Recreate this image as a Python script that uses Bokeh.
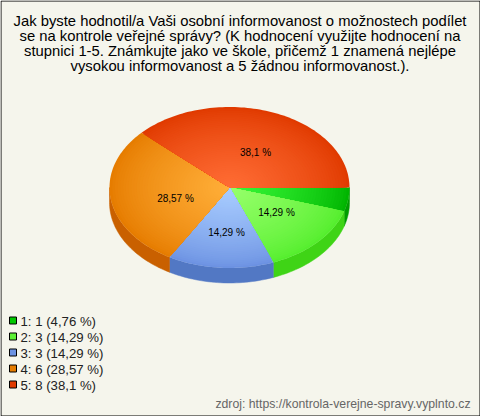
import math
from bokeh.plotting import figure
from bokeh.models import Range1d
from bokeh.core.properties import value
from bokeh.embed import file_html
from bokeh.resources import INLINE

title_lines = [
    "Jak byste hodnotil/a Vaši osobní informovanost o možnostech podílet",
    "se na kontrole veřejné správy? (K hodnocení využijte hodnocení na",
    "stupnici 1-5. Známkujte jako ve škole, přičemž 1 znamená nejlépe",
    "vysokou informovanost a 5 žádnou informovanost.).",
]
categories = ["1", "2", "3", "4", "5"]
counts = [1, 3, 3, 6, 8]
percent_labels = ["4,76 %", "14,29 %", "14,29 %", "28,57 %", "38,1 %"]
source_text = "zdroj: https://kontrola-verejne-spravy.vyplnto.cz"

rim_colors = ["#00B400", "#55EE2E", "#6C92E2", "#E67C00", "#E03A00"]
core_colors = ["#38F838", "#96FF6A", "#A8CCFF", "#FFAE38", "#FF6C34"]
side_colors = ["#009C00", "#3FD416", "#5278C4", "#C96000", "#B83000"]
legend_colors = ["#00C800", "#5CF034", "#6C92E2", "#E67C00", "#E03A00"]

BG = "#F5F5EC"
CX, CY, RX, RY, DEPTH = 229, 187, 120, 80.5, 15
RINGS = 44

p = figure(width=480, height=416, output_backend="svg", toolbar_location=None,
           x_range=Range1d(0, 480), y_range=Range1d(416, 0),
           min_border=0, background_fill_color=BG, border_fill_color=BG,
           outline_line_color=None)
p.axis.visible = False
p.grid.visible = False


def hex_rgb(c):
    return [int(c[i:i + 2], 16) for i in (1, 3, 5)]


def mix(a, b, t):
    ra, rb = hex_rgb(a), hex_rgb(b)
    return "#%02X%02X%02X" % tuple(round(x + (y - x) * t) for x, y in zip(ra, rb))


def arc(a0, a1):
    n = max(2, int((a1 - a0) / 1.5))
    return [a0 + (a1 - a0) * i / n for i in range(n + 1)]


total = sum(counts)
bounds = [0.0]
for c in counts:
    bounds.append(bounds[-1] + 360.0 * c / total)

# side wall: only the front half of the ellipse is visible
for i in range(len(counts)):
    a0, a1 = bounds[i], min(bounds[i + 1], 180.0)
    if a1 <= a0:
        continue
    pts = arc(a0, a1)
    xs = [CX + RX * math.cos(math.radians(a)) for a in pts]
    ys = [CY + RY * math.sin(math.radians(a)) for a in pts]
    p.patch(xs + xs[::-1], ys + [y + DEPTH for y in ys[::-1]],
            fill_color=side_colors[i], line_color=side_colors[i], line_width=0.5)

# top surface: concentric wedges step from the rim colour to the core colour
for i in range(len(counts)):
    pts = arc(bounds[i], bounds[i + 1])
    xs_all, ys_all, cols = [], [], []
    for k in range(RINGS):
        s = 1 - k / RINGS
        xs_all.append([CX] + [CX + s * RX * math.cos(math.radians(a)) for a in pts])
        ys_all.append([CY] + [CY + s * RY * math.sin(math.radians(a)) for a in pts])
        cols.append(mix(rim_colors[i], core_colors[i], (k / (RINGS - 1)) ** 0.75))
    p.patches(xs_all, ys_all, fill_color=cols, line_color=None)

# labels on the slices
label_x = [None, 276, 226, 175, 255]
label_y = [None, 212, 232, 198, 152]
for i in range(1, len(counts)):
    p.text([label_x[i]], [label_y[i]], text=[percent_labels[i]], text_font=value("Liberation Sans"),
           text_font_size="10px", text_align="center", text_baseline="middle", text_color="#000000")

# title
for i, line in enumerate(title_lines):
    p.text([239.5], [20 + i * 15.3], text=[line], text_font=value("Liberation Sans"),
           text_font_size="14.8px", text_align="center", text_baseline="middle", text_color="#000000")

# legend
for i, cat in enumerate(categories):
    y = 320 + i * 16
    p.rect([12.5], [y], width=7, height=7, fill_color=legend_colors[i], line_color="#000000", line_width=1)
    p.text([20], [y + 0.5], text=[f"{cat}: {counts[i]} ({percent_labels[i]})"],
           text_font=value("Liberation Sans"), text_font_size="13.2px",
           text_align="left", text_baseline="middle", text_color="#222222")

# source
p.text([470], [403], text=[source_text], text_font=value("Liberation Sans"), text_font_size="12.25px",
       text_align="right", text_baseline="middle", text_color="#666666")

# frame
p.quad(left=[0.5], right=[479.5], top=[0.5], bottom=[415.5], fill_color=None, line_color="#000000", line_width=1)

open("out.html", "w").write(file_html(p, INLINE))
